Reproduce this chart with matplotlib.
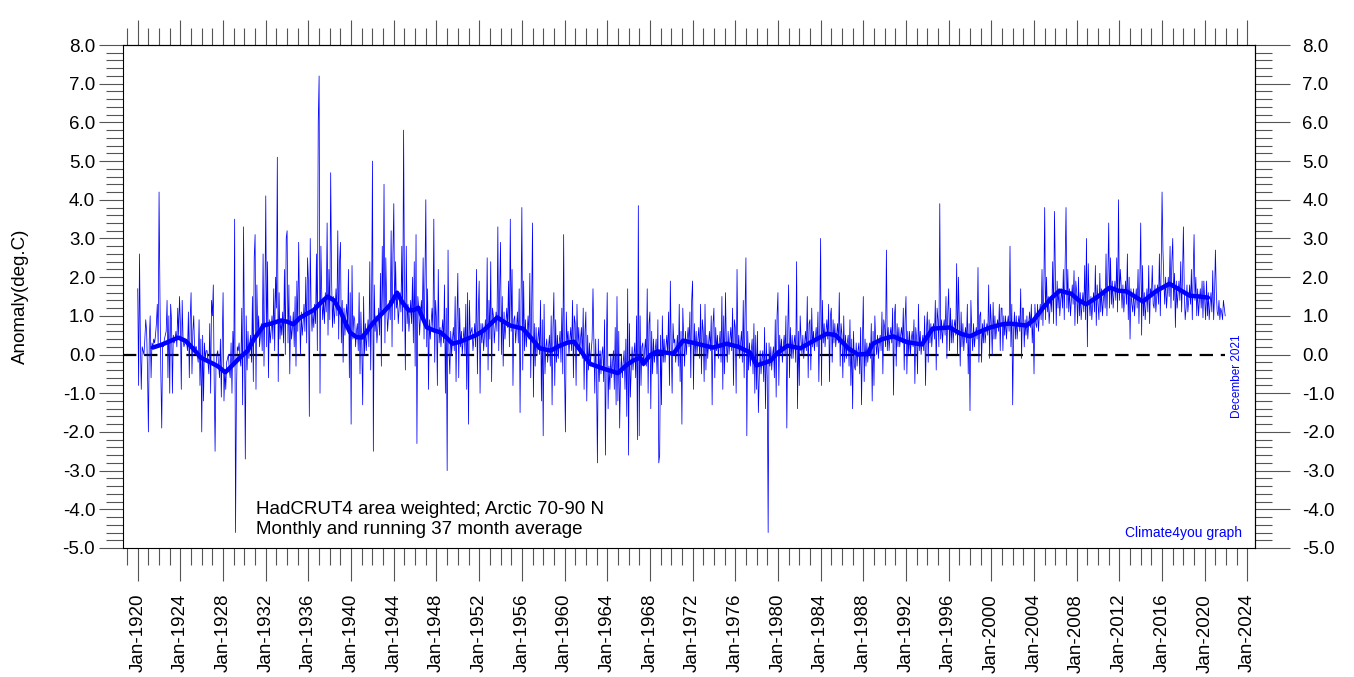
import matplotlib
matplotlib.use('Agg')
import matplotlib.pyplot as plt
from matplotlib.ticker import MultipleLocator, FormatStrFormatter
import numpy as np

plt.rcParams['font.family'] = ['Liberation Sans', 'DejaVu Sans']
plt.rcParams['axes.unicode_minus'] = False

# monthly anomalies (deg C), one row per year, Jan..Dec
m1920s = [
    1.7, -0.8, 2.6, 0.3, -0.9, 0.2, 0.1, 0.0, 0.4, 0.9, 0.6, -0.4,
    -2.0, 0.4, 1.0, -0.6, 0.3, 0.2, 0.4, 0.3, 0.5, 0.8, 1.3, 0.2,
    4.2, 1.5, -0.5, -1.9, 0.3, 0.2, 0.4, 0.5, 0.6, 1.4, -0.6, 1.0,
    -1.0, 1.3, 0.9, -1.0, 0.5, 0.3, 0.4, 0.6, 0.2, 1.2, 0.5, 1.5,
    0.8, -0.9, 1.4, 0.4, 0.2, 0.3, 0.4, 0.3, 0.1, 1.1, -0.6, 0.9,
    1.6, -0.5, 0.6, 1.0, 0.1, 0.2, 0.2, 0.0, -0.2, 0.9, -0.8, 0.4,
    -2.0, 0.5, -1.2, 0.3, -0.1, 0.1, 0.1, -0.2, -0.5, 0.8, -1.0, 1.4,
    1.0, 1.8, -0.7, -2.5, -0.3, 0.0, 0.1, -0.3, -0.6, 0.4, -1.1, 0.2,
    1.6, -1.2, -0.4, -0.9, -0.2, -0.1, 0.0, -0.4, -0.6, 0.3, -1.0, 0.6,
    -0.3, 3.5, -4.6, -1.0, 0.2, 0.1, 0.3, -0.1, -0.3, 1.2, -1.3, 3.3,
]
m1930s = [
    0.5, -2.7, 1.0, -0.4, 0.6, -0.1, 0.3, 0.5, -0.2, 1.5, -0.7, 2.5,
    3.1, -0.9, 1.8, 0.5, 1.0, 0.2, 0.5, 0.8, 0.1, 2.6, -0.3, 1.2,
    4.1, 0.2, 2.4, -0.6, 0.9, 0.3, 0.6, 1.0, 0.4, 1.7, 0.1, 2.0,
    1.2, 5.1, -0.7, 1.6, 0.4, 0.9, 0.5, 1.1, 0.3, 2.2, 0.0, 3.0,
    3.2, 0.3, 1.8, -0.5, 1.0, 0.4, 0.7, 1.1, 0.2, 1.5, -0.3, 1.9,
    0.6, 2.9, 1.2, 0.0, 1.1, 0.5, 0.8, 1.3, 0.6, 2.0, 0.3, 2.5,
    1.9, -1.6, 3.0, 1.2, 0.6, 1.1, 0.7, 1.3, 0.8, 2.6, 0.1, 6.0,
    7.2, -1.0, 2.8, 1.5, 0.9, 1.4, 0.8, 1.6, 1.1, 3.4, 0.5, 2.2,
    0.9, 4.7, 2.0, 0.7, 1.5, 0.8, 1.2, 1.7, 1.0, 3.2, 0.4, 2.4,
    2.9, 0.3, 1.4, -0.2, 1.2, 0.5, 1.0, 1.3, 0.7, 2.2, -0.6, 1.6,
]
m1940s = [
    -1.8, 2.3, 0.4, 1.0, 0.9, 0.2, 0.6, 0.8, 0.1, 1.6, -0.5, 1.1,
    0.2, -1.3, 1.5, 0.0, 0.8, 0.1, 0.5, 0.9, 0.2, 2.4, -0.4, 1.3,
    5.0, -2.5, 1.8, 0.6, 1.0, 0.3, 0.7, 1.2, 0.5, 2.1, -0.3, 2.8,
    1.1, 4.4, 0.3, 2.5, 1.3, 0.6, 1.0, 1.4, 0.9, 3.2, 0.2, 2.6,
    3.9, 0.9, 2.4, 1.2, 1.5, 0.8, 1.2, 1.6, 1.1, 2.8, 0.6, 5.8,
    1.6, -0.4, 2.8, 0.8, 1.3, 0.6, 1.0, 1.4, 0.8, 2.0, 0.3, 2.4,
    -0.3, 3.1, -2.3, 1.5, 1.2, 0.5, 1.0, 1.4, 0.9, 2.5, 0.4, 1.9,
    4.0, 0.2, 1.7, -0.9, 0.9, 0.4, 0.8, 1.2, 0.6, 3.5, -0.2, 1.4,
    0.9, -0.8, 2.2, 0.3, 0.7, 0.2, 0.6, 0.9, 0.3, 1.8, -1.0, 1.2,
    -3.0, 2.7, 0.1, -0.5, 0.6, 0.0, 0.4, 0.7, 0.1, 1.5, -0.7, 0.9,
]
m1950s = [
    2.1, -0.6, 1.2, 0.2, 0.6, 0.0, 0.4, 0.7, 0.0, 1.3, -0.9, 1.6,
    -1.8, 1.4, 0.5, 0.6, 0.7, 0.1, 0.4, 0.8, 0.2, 2.2, -0.5, 1.1,
    1.9, -1.0, 0.8, 0.3, 0.8, 0.1, 0.5, 0.9, 0.2, 2.5, -0.4, 1.4,
    0.4, 2.4, -0.7, 1.2, 1.0, 0.3, 0.7, 1.1, 0.6, 3.3, 0.1, 1.6,
    2.9, 0.0, 1.5, -0.3, 1.1, 0.4, 0.8, 1.2, 0.7, 1.9, 0.2, 3.5,
    0.6, 2.2, -0.8, 0.9, 1.0, 0.3, 0.7, 1.1, 0.3, 1.7, -1.5, 1.3,
    3.8, -0.4, 1.9, 0.1, 0.9, 0.2, 0.6, 1.0, 0.4, 2.1, -0.6, 1.2,
    3.4, -1.1, 0.8, -0.3, 0.7, 0.0, 0.4, 0.7, 0.0, 1.4, -1.2, 0.9,
    -2.1, 1.3, -0.5, 0.2, 0.4, -0.2, 0.2, 0.5, -0.3, 1.0, -1.3, 0.7,
    1.6, -0.8, 0.9, -0.2, 0.5, -0.1, 0.3, 0.6, -0.2, 1.2, -0.5, 3.1,
]
m1960s = [
    -0.4, -2.0, 1.1, 0.3, 0.6, 0.0, 0.4, 0.7, 0.1, 1.4, -0.6, 1.0,
    0.8, -0.8, 1.3, 0.2, 0.7, 0.0, 0.4, 0.7, -0.1, 1.2, -0.9, 0.6,
    1.1, -1.2, 0.5, -0.4, 0.3, -0.3, 0.1, 0.4, 1.7, 0.3, -1.0, 0.4,
    -0.6, -2.8, 0.4, -0.7, 0.1, -0.5, 0.0, 0.2, -0.7, 0.9, -2.6, 0.2,
    1.6, -1.4, -0.3, -0.9, 0.0, -0.6, -0.2, 0.1, -0.9, 0.7, -1.3, 1.5,
    -1.2, 0.6, -1.9, -0.5, 0.0, -0.6, -0.2, 0.1, -0.9, 0.4, -1.6, 1.7,
    -2.6, 0.8, -1.1, -0.4, 0.2, -0.4, 0.0, 0.3, -0.6, 1.0, -2.2, 3.85,
    -2.1, 1.0, -0.8, 0.2, 0.3, -0.3, 0.1, 0.4, -0.3, 1.7, -1.0, 0.8,
    1.1, -1.4, 0.6, -0.5, 0.4, -0.2, 0.1, 0.4, -0.5, 0.9, -2.8, -2.6,
    0.5, -1.3, 1.0, -0.2, 0.4, -0.2, 0.2, 0.5, 0.0, 1.1, -0.8, 1.9,
]
m1970s = [
    0.2, -1.0, 0.8, 0.3, 0.4, -0.2, 0.2, 0.5, -0.3, 1.3, -0.7, 0.6,
    -1.8, 1.2, 0.4, -0.3, 0.6, 0.0, 0.4, 0.7, 0.2, 1.1, -0.6, 1.4,
    1.9, -0.9, 0.8, 0.0, 0.6, 0.0, 0.4, 0.7, -0.1, 1.3, -0.5, 0.9,
    0.6, -0.7, 1.3, -0.4, 0.5, -0.1, 0.3, 0.6, 0.1, 1.0, -1.3, 0.8,
    1.2, -0.6, 0.7, 0.1, 0.5, -0.1, 0.3, 0.6, -0.2, 1.5, -0.9, 1.0,
    -0.5, 1.6, 0.3, -0.2, 0.6, 0.0, 0.4, 0.7, 0.1, 1.2, -0.8, 0.9,
    0.7, -1.0, 2.2, 0.0, 0.5, -0.1, 0.3, 0.6, -0.2, 1.4, -0.6, 1.1,
    2.5, -2.1, 0.6, -0.4, 0.3, -0.3, 0.1, 0.4, -0.5, 0.8, -1.0, 0.5,
    -0.9, 0.6, -1.5, -0.6, 0.1, -0.5, -0.1, 0.1, -0.7, 0.7, -1.4, 0.3,
    -0.6, -4.6, 0.3, -0.3, 0.2, -0.4, 0.0, 0.2, -0.6, 0.9, -1.1, 1.0,
]
m1980s = [
    1.6, -0.8, 0.5, 0.0, 0.4, -0.2, 0.2, 0.5, 0.0, 1.0, -1.9, 0.6,
    1.8, -0.6, 0.7, -0.1, 0.5, -0.1, 0.3, 0.5, -0.2, 2.4, -1.4, 0.6,
    -0.8, 1.0, 0.4, 0.0, 0.5, -0.1, 0.3, 0.6, 0.1, 1.5, -0.6, 0.8,
    0.9, -0.4, 1.2, 0.2, 0.6, 0.1, 0.4, 0.7, 0.2, 1.1, -0.7, 0.7,
    3.0, -0.8, 1.4, 0.3, 0.8, 0.2, 0.6, 0.9, 0.4, 1.3, -0.7, 1.0,
    1.2, -0.2, 0.9, 0.3, 0.8, 0.2, 0.5, 0.8, 0.3, 1.6, -0.3, 0.8,
    0.5, -0.6, 1.0, -0.2, 0.5, -0.1, 0.3, 0.5, -0.3, 0.9, -0.8, 0.4,
    -1.4, 0.6, -0.3, -0.4, 0.3, -0.3, 0.1, 0.3, -0.5, 0.7, -1.3, 0.3,
    1.5, -0.7, 0.4, -0.3, 0.3, -0.2, 0.1, 0.3, -0.1, 0.8, -1.2, 0.6,
    -0.8, 1.0, 0.3, 0.0, 0.5, -0.1, 0.3, 0.5, 0.1, 1.1, -0.5, 0.9,
]
m1990s = [
    0.7, 0.2, 2.7, 0.1, 0.7, 0.1, 0.5, 0.7, 0.3, 1.2, -1.05, 1.0,
    1.3, -0.3, 0.8, 0.2, 0.7, 0.2, 0.5, 0.7, 0.3, 1.2, -0.4, 0.9,
    1.5, -0.5, 0.6, 0.0, 0.6, 0.0, 0.4, 0.6, 0.2, 0.9, -0.75, 0.7,
    0.4, -0.5, 1.3, 0.1, 0.6, 0.0, 0.3, 0.5, 0.1, 1.0, -0.8, 0.6,
    1.1, -0.2, 0.9, 0.3, 0.8, 0.2, 0.6, 0.8, 0.4, 1.4, -0.4, 1.2,
    0.9, 0.2, 3.9, 0.4, 0.9, 0.3, 0.7, 0.9, 0.5, 1.5, -0.1, 1.1,
    1.7, 0.1, 1.2, 0.3, 0.9, 0.3, 0.7, 0.9, 0.5, 2.35, 0.0, 2.0,
    0.9, -0.3, 1.1, 0.2, 0.8, 0.1, 0.5, 0.7, 0.3, 1.3, -0.5, 0.8,
    -1.45, 1.4, 0.6, 0.1, 0.8, 0.2, 0.5, 0.7, 0.4, 2.25, -0.2, 1.0,
    1.1, -0.2, 0.8, 0.3, 0.9, 0.3, 0.6, 0.8, 0.5, 1.8, -0.1, 1.3,
]
m2000s = [
    0.8, 0.0, 1.35, 0.4, 1.0, 0.4, 0.7, 0.9, 0.6, 1.3, 0.1, 1.2,
    1.2, 0.1, 1.0, 0.5, 1.0, 0.4, 0.8, 1.0, 0.6, 2.8, 0.2, 1.3,
    -1.3, 0.6, 1.1, 0.4, 1.0, 0.4, 0.8, 1.0, 0.6, 1.7, -0.1, 1.2,
    1.2, 0.2, 0.9, 0.5, 1.0, 0.4, 0.8, 1.1, 0.7, 1.3, 0.3, 0.9,
    -0.5, 1.3, 0.8, 0.7, 1.3, 0.6, 1.0, 1.3, 0.9, 2.2, 0.75, 1.6,
    3.8, 0.9, 2.0, 1.1, 1.5, 0.8, 1.2, 1.5, 1.1, 2.4, 0.8, 3.7,
    2.1, 0.75, 1.9, 1.2, 1.7, 1.0, 1.4, 1.7, 1.2, 2.2, 0.9, 2.35,
    3.8, 1.2, 2.2, 1.1, 1.7, 1.0, 1.4, 1.8, 1.3, 2.17, 0.75, 1.9,
    1.6, 0.8, 2.0, 1.0, 1.6, 0.9, 1.3, 1.6, 1.1, 2.3, 0.9, 3.0,
    0.2, 2.35, 1.4, 1.0, 1.5, 0.9, 1.3, 1.6, 1.1, 2.3, 0.75, 1.8,
]
m2010s = [
    1.3, 0.9, 2.1, 1.1, 1.7, 1.0, 1.4, 1.7, 1.2, 2.6, 1.0, 2.0,
    3.4, 1.2, 2.5, 1.3, 1.9, 1.2, 1.6, 1.9, 1.4, 2.5, 1.1, 4.0,
    1.4, 2.2, 1.8, 1.2, 1.8, 1.1, 1.5, 1.9, 1.3, 2.6, 0.9, 2.0,
    0.4, 1.7, 1.3, 1.1, 1.7, 1.0, 1.4, 1.7, 1.2, 2.2, 0.8, 1.9,
    3.4, 0.5, 2.3, 1.0, 1.6, 0.9, 1.3, 1.7, 1.1, 2.3, 0.8, 1.7,
    1.5, 2.3, 1.3, 1.2, 1.8, 1.1, 1.5, 1.8, 1.3, 2.6, 1.0, 2.2,
    4.2, 2.7, 1.9, 1.3, 2.0, 1.2, 1.6, 2.0, 1.5, 2.8, 1.2, 2.4,
    3.0, 1.4, 2.1, 0.7, 1.9, 1.2, 1.6, 1.9, 1.4, 2.4, 1.1, 2.0,
    3.3, 1.6, 0.9, 1.2, 1.8, 1.1, 1.4, 1.8, 1.3, 2.2, 0.9, 2.1,
    3.1, 1.4, 2.0, 1.0, 1.7, 1.0, 1.4, 1.7, 1.2, 1.9, 0.95, 1.9,
]
m2020s = [
    1.4, 0.9, 1.9, 1.0, 1.6, 0.9, 1.3, 1.6, 1.1, 2.17, 0.9, 1.5,
    2.7, 1.6, 1.1, 1.0, 1.4, 0.9, 1.2, 1.1, 0.9, 1.4, 1.2, 1.0,
]

# running 37 month average (decimal year, value)
rm_year = [1921.4, 1922.2, 1922.8, 1923.8, 1924.5, 1925.2, 1925.9, 1926.8, 1927.5,
           1928.2, 1928.8, 1929.5, 1930.3, 1930.9, 1931.8, 1932.5, 1933.4, 1934.0,
           1934.6, 1935.2, 1935.9, 1936.5, 1937.2, 1937.8, 1938.4, 1939.0, 1939.5,
           1939.9, 1940.5, 1941.0, 1941.5, 1942.0, 1943.0, 1943.7, 1944.3, 1944.8,
           1945.4, 1945.9, 1946.3, 1946.7, 1947.1, 1947.8, 1948.4, 1949.0, 1949.5,
           1950.2, 1950.9, 1951.7, 1952.4, 1953.1, 1953.7, 1954.3, 1954.9, 1956.1,
           1956.8, 1957.7, 1958.7, 1959.5, 1960.3, 1960.9, 1961.5, 1962.4, 1963.6,
           1965.0, 1965.7, 1966.4, 1967.1, 1967.4, 1968.0, 1968.7, 1969.5, 1970.2,
           1971.1, 1971.8, 1972.7, 1973.9, 1975.2, 1976.3, 1977.4, 1978.0, 1978.7,
           1979.3, 1980.0, 1980.9, 1982.1, 1983.3, 1984.6, 1985.4, 1986.6, 1987.5,
           1988.4, 1988.9, 1989.8, 1990.8, 1992.1, 1993.5, 1994.5, 1996.1, 1997.1,
           1998.0, 1999.0, 1999.9, 2001.0, 2001.7, 2003.3, 2004.0, 2004.8, 2005.6,
           2006.4, 2007.5, 2008.2, 2008.9, 2010.0, 2011.1, 2011.9, 2012.7, 2014.2,
           2015.5, 2016.7, 2017.5, 2018.6, 2019.5, 2020.3]
rm_val = [0.18, 0.25, 0.32, 0.44, 0.35, 0.15, -0.08, -0.2, -0.3,
          -0.46, -0.3, -0.1, 0.1, 0.4, 0.75, 0.8, 0.88, 0.85,
          0.78, 0.95, 1.06, 1.15, 1.35, 1.5, 1.4, 1.12, 0.8,
          0.57, 0.45, 0.44, 0.6, 0.8, 1.09, 1.3, 1.6, 1.35,
          1.14, 1.15, 1.21, 0.95, 0.7, 0.62, 0.57, 0.42, 0.28,
          0.33, 0.41, 0.5, 0.62, 0.8, 0.96, 0.85, 0.75, 0.67,
          0.45, 0.16, 0.1, 0.22, 0.31, 0.33, 0.1, -0.24, -0.36,
          -0.48, -0.3, -0.16, -0.08, -0.24, -0.02, 0.08, 0.05, 0.02,
          0.36, 0.32, 0.26, 0.18, 0.28, 0.2, 0.05, -0.28, -0.22,
          -0.16, 0.05, 0.23, 0.16, 0.35, 0.54, 0.5, 0.16, 0.0,
          0.02, 0.28, 0.4, 0.47, 0.32, 0.26, 0.67, 0.70, 0.54,
          0.47, 0.6, 0.7, 0.78, 0.8, 0.75, 0.9, 1.19, 1.45,
          1.65, 1.57, 1.4, 1.3, 1.5, 1.73, 1.65, 1.63, 1.37,
          1.65, 1.83, 1.7, 1.52, 1.5, 1.47]

tick_years = list(range(1920, 2025, 4))
tick_labels = [f'Jan-{y}' for y in tick_years]

monthly = m1920s + m1930s + m1940s + m1950s + m1960s + m1970s + m1980s + m1990s + m2000s + m2010s + m2020s
t = 1920 + np.arange(len(monthly)) / 12.0

fig = plt.figure(figsize=(13.54, 6.77), dpi=100)
ax = fig.add_axes([123 / 1354, 1 - 548 / 677, 1132 / 1354, 503 / 677])

x0, x1 = 1918.62, 2024.71
ax.set_xlim(x0, x1)
ax.set_ylim(-5, 8)

# zero reference line
ax.hlines(0, x0, t[-1], colors='black', linestyles=(0, (6, 3.5)), linewidth=1.6, zorder=1)
ax.plot(t, monthly, color='#0000ff', linewidth=0.55, zorder=2)
ax.plot(rm_year, rm_val, color='#0000ff', linewidth=3.2, solid_capstyle='round', zorder=3)

tick_col = '#555555'
fs = 13.5
ax.set_xticks(tick_years)
ax.set_xticklabels(tick_labels, rotation=90, fontsize=fs)
ax.xaxis.set_minor_locator(MultipleLocator(1))
ax.yaxis.set_major_locator(MultipleLocator(1))
ax.yaxis.set_minor_locator(MultipleLocator(0.2))
ax.yaxis.set_major_formatter(FormatStrFormatter('%.1f'))
ax.tick_params(axis='x', which='major', direction='out', length=24, width=0.8, color=tick_col, pad=9, labelsize=fs)
ax.tick_params(axis='x', which='minor', direction='out', length=12, width=0.8, color=tick_col)
ax.tick_params(axis='y', which='major', direction='out', length=17, width=0.8, color=tick_col, pad=3, labelsize=fs)
ax.tick_params(axis='y', which='minor', direction='out', length=12, width=0.8, color=tick_col)

top = ax.secondary_xaxis('top')
top.set_xticks(tick_years)
top.xaxis.set_minor_locator(MultipleLocator(1))
top.tick_params(which='major', direction='out', length=18, width=0.8, color=tick_col, labeltop=False)
top.tick_params(which='minor', direction='out', length=12, width=0.8, color=tick_col)
top.set_xticklabels([])

right = ax.secondary_yaxis('right')
right.yaxis.set_major_locator(MultipleLocator(1))
right.yaxis.set_minor_locator(MultipleLocator(0.2))
right.yaxis.set_major_formatter(FormatStrFormatter('%.1f'))
right.tick_params(which='major', direction='out', length=25, width=0.8, color=tick_col, pad=9, labelsize=fs)
right.tick_params(which='minor', direction='out', length=12, width=0.8, color=tick_col)

for s in ax.spines.values():
    s.set_linewidth(0.8)

ax.set_ylabel('Anomaly(deg.C)', fontsize=fs, labelpad=24)

ax.text(0.1175, 0.0775, 'HadCRUT4 area weighted; Arctic 70-90 N', transform=ax.transAxes,
        fontsize=fs, va='center', ha='left')
ax.text(0.1175, 0.036, 'Monthly and running 37 month average', transform=ax.transAxes,
        fontsize=fs, va='center', ha='left')
ax.text(0.9885, 0.03, 'Climate4you graph', transform=ax.transAxes, fontsize=10,
        color='#0000ff', va='center', ha='right')
ax.text(0.984, 0.342, 'December 2021', transform=ax.transAxes, fontsize=8.5,
        color='#0000ff', va='center', ha='center', rotation=90)

fig.savefig('out.png', dpi=100)
